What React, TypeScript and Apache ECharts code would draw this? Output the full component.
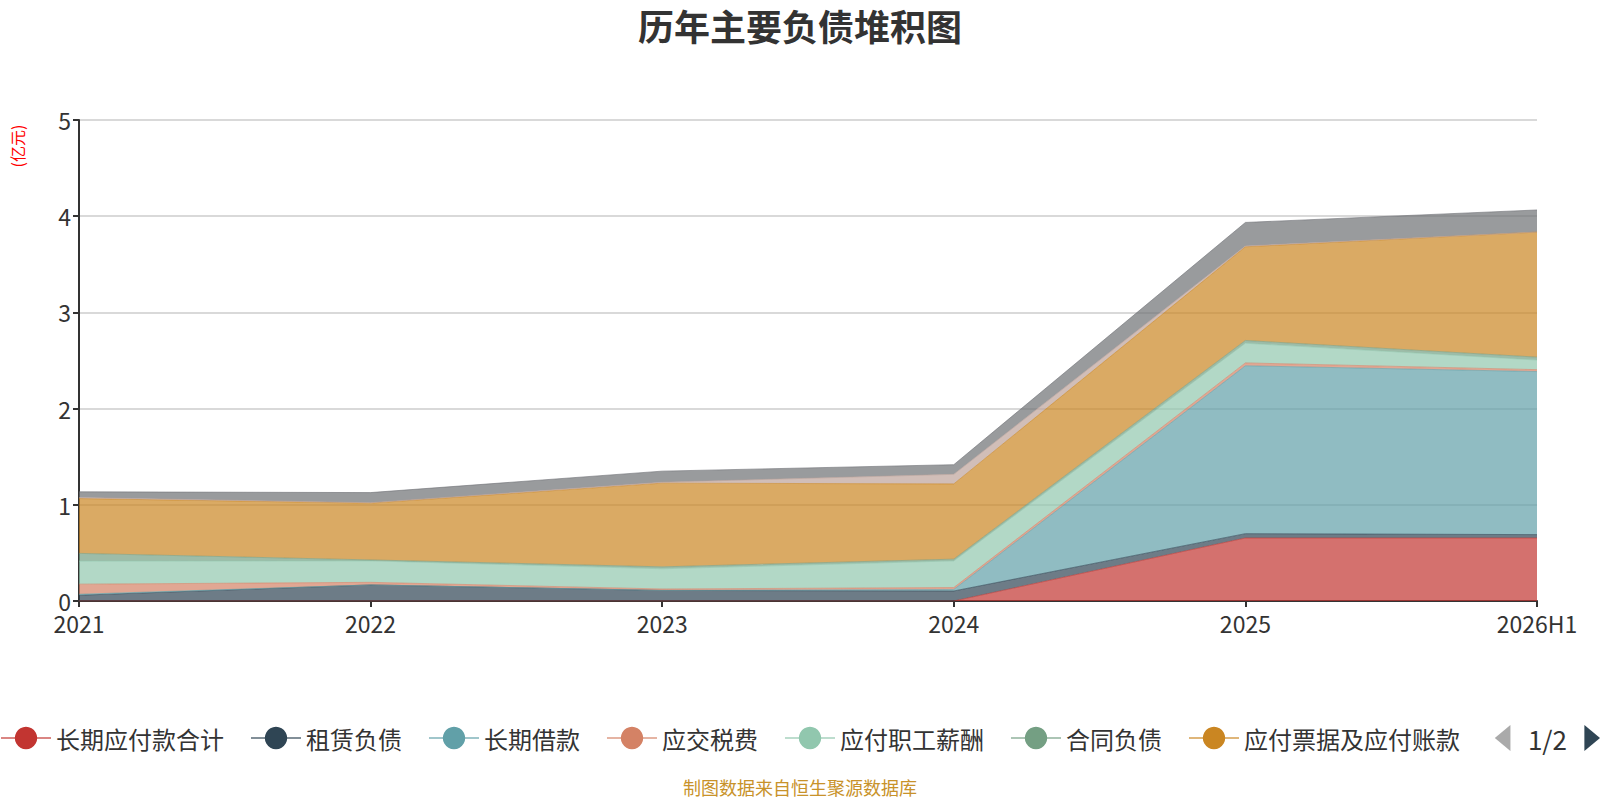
import React, { useEffect, useRef } from "react";
import * as echarts from "echarts";

const categories = ["2021", "2022", "2023", "2024", "2025", "2026H1"];
const seriesNames = [
  "长期应付款合计",
  "租赁负债",
  "长期借款",
  "应交税费",
  "应付职工薪酬",
  "合同负债",
  "应付票据及应付账款",
  "其他应付款合计",
  "短期借款",
];
const longTermPayables = [0, 0, 0, 0, 0.655, 0.655];
const leaseLiabilities = [0.06, 0.167, 0.11, 0.104, 0.045, 0.035];
const longTermLoans = [0.01, 0, 0, 0.016, 1.745, 1.695];
const taxesPayable = [0.105, 0.027, 0.015, 0.02, 0.03, 0.02];
const payroll = [0.24, 0.223, 0.21, 0.277, 0.205, 0.1];
const contractLiabilities = [0.08, 0.01, 0.02, 0.018, 0.028, 0.03];
const billsAccountsPayable = [0.57, 0.59, 0.87, 0.782, 0.974, 1.3];
const otherPayables = [0.01, 0.005, 0.01, 0.1, 0.008, 0];
const shortTermLoans = [0.06, 0.105, 0.115, 0.1, 0.245, 0.23];
const yTicks = [0, 1, 2, 3, 4, 5];

const seriesData = [
  longTermPayables,
  leaseLiabilities,
  longTermLoans,
  taxesPayable,
  payroll,
  contractLiabilities,
  billsAccountsPayable,
  otherPayables,
  shortTermLoans,
];
const colors = [
  "#c23531",
  "#2f4554",
  "#61a0a8",
  "#d48265",
  "#91c7ae",
  "#749f83",
  "#ca8622",
  "#bda29a",
  "#6e7074",
];

const FONT = '"Noto Sans CJK SC", "Noto Sans", sans-serif';

export default function App() {
  const ref = useRef<HTMLDivElement>(null);
  useEffect(() => {
    document.body.style.margin = "0";
    if (!ref.current) return;
    const chart = echarts.init(ref.current, undefined, { renderer: "svg" });
    chart.setOption({
      animation: false,
      color: colors,
      textStyle: { fontFamily: FONT },
      title: {
        text: "历年主要负债堆积图",
        left: "center",
        top: 3,
        padding: [4, 5],
        textStyle: { fontSize: 36, fontWeight: "bold", color: "#333", fontFamily: FONT },
      },
      legend: {
        type: "scroll",
        left: 0,
        right: 0,
        top: 720,
        padding: [5, 0],
        itemWidth: 50,
        itemHeight: 28,
        itemGap: 26,
        textStyle: { fontSize: 24, color: "#333", fontFamily: FONT },
        pageIconColor: "#2f4554",
        pageIconInactiveColor: "#aaa",
        pageIconSize: [18, 26],
        pageButtonItemGap: 6,
        pageTextStyle: { fontSize: 26, color: "#333", fontFamily: FONT },
        data: seriesNames,
      },
      grid: { left: 79, right: 63, top: 120, bottom: 199 },
      xAxis: {
        type: "category",
        boundaryGap: false,
        data: categories,
        axisLine: { lineStyle: { color: "#333", width: 2 } },
        axisTick: { show: true, length: 6, lineStyle: { color: "#333", width: 2 } },
        axisLabel: { fontSize: 23, color: "#333", margin: 10, fontFamily: FONT },
      },
      yAxis: {
        type: "value",
        min: yTicks[0],
        max: yTicks[yTicks.length - 1],
        interval: 1,
        axisLine: { show: true, lineStyle: { color: "#333", width: 2 } },
        axisTick: { show: true, length: 6, lineStyle: { color: "#333", width: 2 } },
        axisLabel: { fontSize: 23, color: "#333", margin: 8, fontFamily: FONT },
        splitLine: { lineStyle: { color: "#ccc", width: 1.5 } },
      },
      graphic: [
        {
          type: "text",
          x: 16.5,
          y: 146,
          rotation: Math.PI / 2,
          style: {
            text: "(亿元)",
            fill: "#ff0000",
            fontSize: 16,
            fontFamily: FONT,
            textAlign: "center",
            textVerticalAlign: "middle",
          },
        },
        {
          type: "text",
          x: 800,
          y: 787,
          style: {
            text: "制图数据来自恒生聚源数据库",
            fill: "#c8922a",
            fontSize: 18,
            fontFamily: FONT,
            textAlign: "center",
            textVerticalAlign: "middle",
          },
        },
      ],
      series: seriesNames.map((name, i) => ({
        name,
        type: "line",
        stack: "total",
        data: seriesData[i],
        symbol: "circle",
        showSymbol: false,
        lineStyle: { width: 1, opacity: 0.6 },
        areaStyle: { opacity: 0.7 },
      })),
    });
    return () => chart.dispose();
  }, []);
  return <div ref={ref} style={{ width: 1600, height: 800 }} />;
}
